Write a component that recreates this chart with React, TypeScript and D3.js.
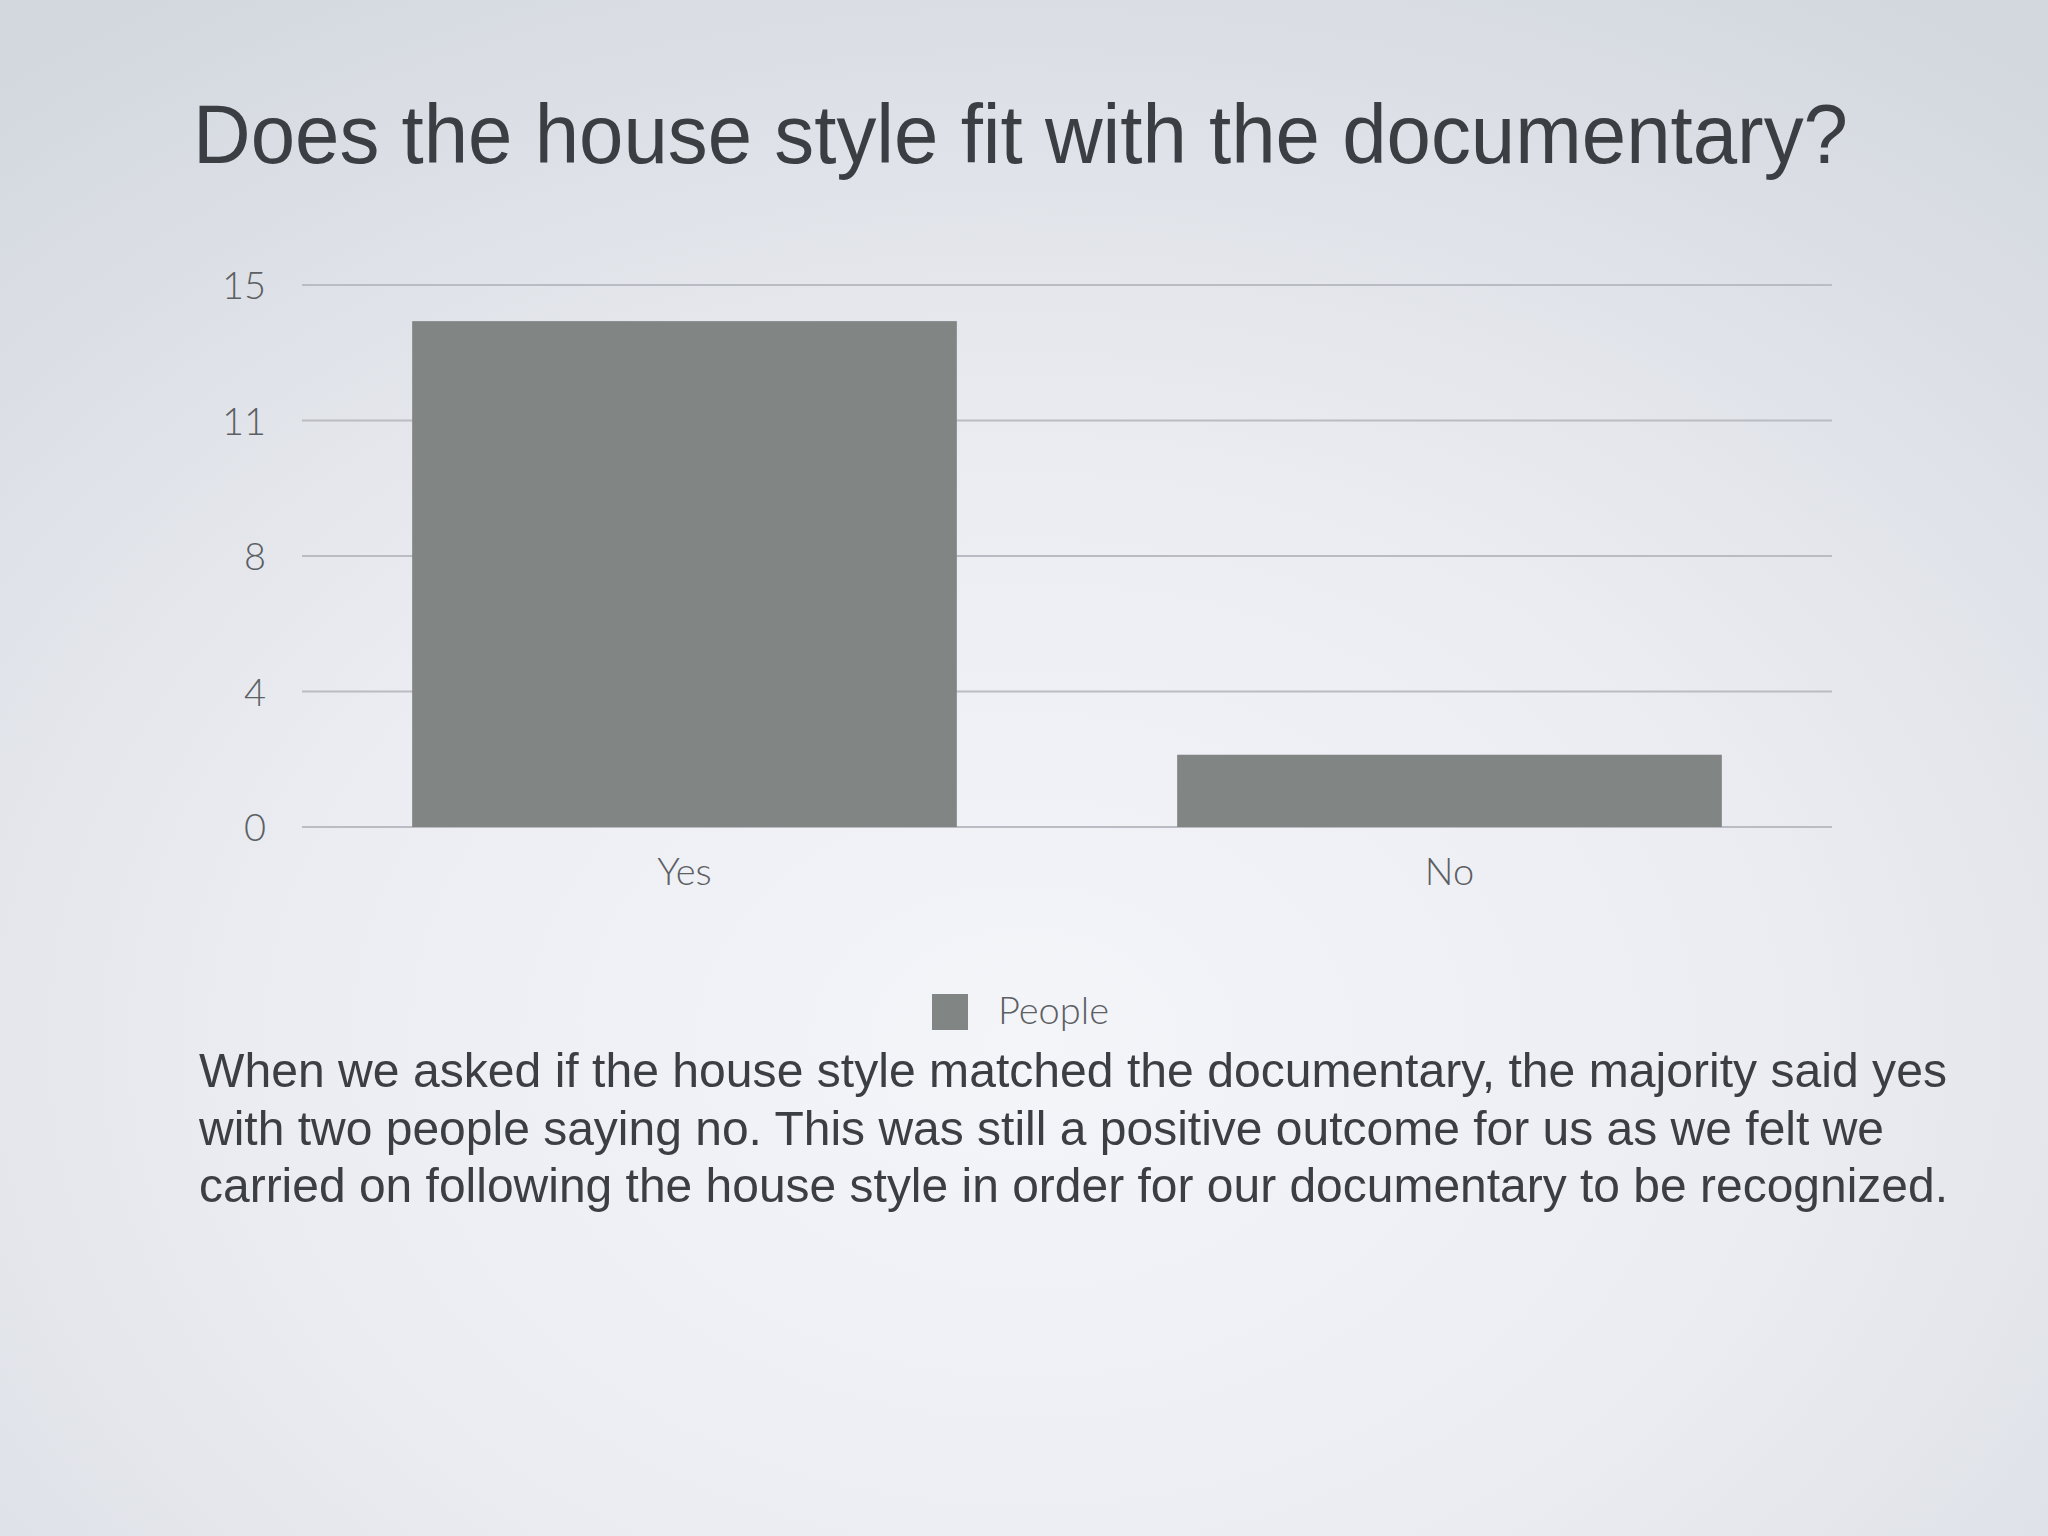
import * as d3 from 'd3';
import React, { useEffect, useRef } from 'react';

const categories = ['Yes', 'No'];
const people = [14, 2];
const tickValues = [0, 3.75, 7.5, 11.25, 15];
const tickLabels = ['0', '4', '8', '11', '15'];
const seriesName = 'People';
const title = 'Does the house style fit with the documentary?';
const bodyLines = [
    'When we asked if the house style matched the documentary, the majority said yes',
    'with two people saying no. This was still a positive outcome for us as we felt we',
    'carried on following the house style in order for our documentary to be recognized.',
];
// gemessene Zeilenbreiten (die Vorlage nutzt eine schmalere Schrift)
const bodyWidths = [1748, 1685, 1749];

const W = 2048;
const H = 1536;

function App() {
    const ref = useRef<SVGSVGElement>(null);

    useEffect(() => {
        const svg = d3.select(ref.current);
        svg.selectAll('*').remove();

        // Hintergrund
        const defs = svg.append('defs');
        const grad = defs.append('radialGradient')
            .attr('id', 'bg')
            .attr('cx', '50%').attr('cy', '68%').attr('r', '80%');
        grad.append('stop').attr('offset', '0%').attr('stop-color', '#f4f5f9');
        grad.append('stop').attr('offset', '45%').attr('stop-color', '#ecedf2');
        grad.append('stop').attr('offset', '100%').attr('stop-color', '#d3d8df');
        svg.append('rect').attr('width', W).attr('height', H).attr('fill', 'url(#bg)');

        svg.append('text')
            .attr('x', 193).attr('y', 163)
            .attr('textLength', 1655)
            .attr('lengthAdjust', 'spacingAndGlyphs')
            .style('font-family', 'Liberation Sans, Arial, sans-serif')
            .style('font-size', '84px')
            .style('fill', '#3b3e42')
            .text(title);

        const x = d3.scaleBand<string>()
            .domain(categories)
            .range([302, 1832])
            .paddingInner(0.288)
            .paddingOuter(0.144);
        const y = d3.scaleLinear().domain([0, 15]).range([827, 285]);

        const g = svg.append('g');
        const axisFont = 'Lato, "Open Sans", sans-serif';

        // Gitterlinien
        g.selectAll('.grid')
            .data(tickValues)
            .enter()
            .append('line')
            .attr('x1', 302).attr('x2', 1832)
            .attr('y1', d => y(d)).attr('y2', d => y(d))
            .style('stroke', '#b9bcc2')
            .style('stroke-width', 2);

        g.selectAll('.ylab')
            .data(tickValues)
            .enter()
            .append('text')
            .attr('x', 266)
            .attr('y', d => y(d) + 14)
            .style('text-anchor', 'end')
            .style('font-family', axisFont)
            .style('font-weight', 300)
            .style('font-size', '38px')
            .style('fill', '#5c5f63')
            .text((d, i) => tickLabels[i]);

        g.selectAll('.bar')
            .data(people)
            .enter()
            .append('rect')
            .attr('x', (d, i) => x(categories[i]) as number)
            .attr('width', x.bandwidth())
            .attr('y', d => y(d))
            .attr('height', d => y(0) - y(d))
            .style('fill', '#818584');

        g.selectAll('.xlab')
            .data(categories)
            .enter()
            .append('text')
            .attr('x', d => (x(d) as number) + x.bandwidth() / 2)
            .attr('y', 885)
            .style('text-anchor', 'middle')
            .style('font-family', axisFont)
            .style('font-weight', 300)
            .style('font-size', '38px')
            .style('fill', '#5c5f63')
            .text(d => d);

        // Legende
        svg.append('rect')
            .attr('x', 932).attr('y', 994)
            .attr('width', 36).attr('height', 36)
            .style('fill', '#818584');
        svg.append('text')
            .attr('x', 998).attr('y', 1024)
            .style('font-family', axisFont)
            .style('font-weight', 300)
            .style('font-size', '38px')
            .style('fill', '#5c5f63')
            .text(seriesName);

        svg.selectAll('.body')
            .data(bodyLines)
            .enter()
            .append('text')
            .attr('x', 199)
            .attr('y', (d, i) => 1087 + i * 57.5)
            .attr('textLength', (d, i) => bodyWidths[i])
            .attr('lengthAdjust', 'spacingAndGlyphs')
            .style('font-family', 'Liberation Sans, Arial, sans-serif')
            .style('font-size', '49px')
            .style('fill', '#3b3e42')
            .text(d => d);
    }, []);

    return (
        <svg ref={ref} width={W} height={H} style={{ position: 'absolute', left: 0, top: 0 }}></svg>
    );
}

export default App;
